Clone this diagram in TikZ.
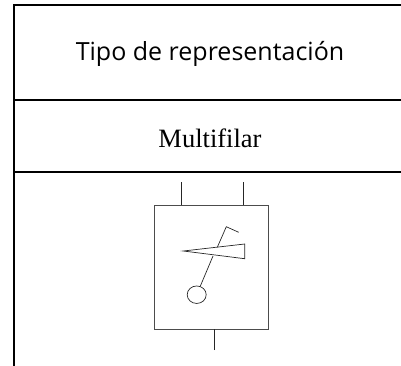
\documentclass[tikz,border=0pt]{standalone}
\usepackage{fontspec}
\setmainfont{Liberation Serif}
\newfontfamily\titlefont{Open Sans}
\usetikzlibrary{calc,positioning,shapes.geometric}

\begin{document}
\begin{tikzpicture}[x=1pt,y=-1pt, rule/.style={line width=1.6pt,line cap=rect}, wire/.style={line width=.7pt,draw=black!85}, box/.style={line width=.9pt,draw=black!70}]
              \useasboundingbox (0,0) rectangle (401,365);

              \coordinate (t1) at (14,5);
              \coordinate (t2) at (401,5);
              \coordinate (m1) at (14,100);
              \coordinate (m2) at (401,100);
              \coordinate (n1) at (14,172);
              \coordinate (n2) at (401,172);
              \coordinate (e1) at (14,365);
              \draw[rule] (t2) -- (t1) -- (e1);
              \draw[rule] (m1) -- (m2);
              \draw[rule] (n1) -- (n2);

              \node[font=\titlefont\fontsize{25}{27}\selectfont] (title) at (210,54) {Tipo de representación};
              \node[font=\fontsize{26.5}{28}\selectfont] (kind) at (210,138) {Multifilar};

              \node[box,draw,minimum width=114pt,minimum height=124pt,inner sep=0pt] (body) at (211,267) {};

              \coordinate (p1) at (181.3,182);
              \coordinate (q1) at (181.3,205);
              \coordinate (p2) at (243.3,182);
              \coordinate (q2) at (243.3,205);
              \coordinate (p3) at (214.3,350);
              \coordinate (q3) at (214.3,329);
              \draw[wire] (p1) -- (q1);
              \draw[wire] (p2) -- (q2);
              \draw[wire] (p3) -- (q3);

              \coordinate (w1) at (183.3,251);
              \coordinate (w2) at (244.7,244);
              \coordinate (w3) at (244.7,258.7);
              \draw[wire] (w1) -- (w2) -- (w3) -- cycle;

              \node[wire,draw,ellipse,minimum width=19pt,minimum height=17.5pt,inner sep=0pt] (lamp) at (196.7,294.7) {};
              \coordinate (s1) at (213,256);
              \draw[wire] (lamp) -- (s1);
              \coordinate (s2) at (217.3,247.3);
              \coordinate (s3) at (226.3,226.7);
              \coordinate (s4) at (238.7,232.3);
              \draw[wire] (s2) -- (s3) -- (s4);
            \end{tikzpicture}
\end{document}
